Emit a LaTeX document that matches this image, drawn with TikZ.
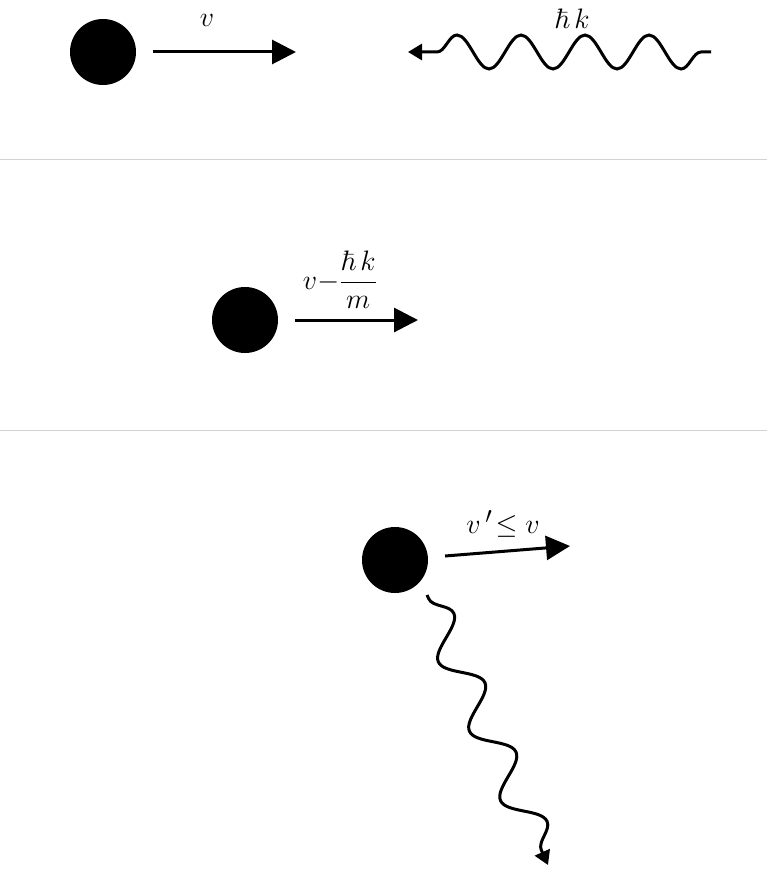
\documentclass[tikz,border=0pt]{standalone}
\usepackage{amsmath, amssymb}
\usepackage{tikz}
\usetikzlibrary{arrows.meta, decorations.pathmorphing}

\tikzset{
    ball/.style={circle, fill=black, inner sep=0pt, minimum size=66pt},
    vel/.style={line width=3pt, -{Triangle[length=24pt, width=24pt]}, shorten <=17pt},
    photon/.style={line width=3pt, -{Triangle[length=14pt, width=16pt]},
        decorate, decoration={snake, amplitude=17pt, segment length=64pt, pre length=10pt, post length=12pt}},
    sep/.style={line width=0.6pt, gray!35},
    lbl/.style={inner sep=0pt, font=\Huge, scale=1.13}
}

\begin{document}
\begin{tikzpicture}[x=1pt, y=-1pt]
    % размеры картинки
    \def\W{767}     % ширина
    \def\H{875}     % высота
    \useasboundingbox (0,0) rectangle (\W,\H);

    % разделители
    \draw[sep] (0,159) -- (\W,159);
    \draw[sep] (0,430) -- (\W,430);

    % до поглощения
    \node[ball] (ballA) at (103,52) {};
    \coordinate (velA) at (296,52);
    \draw[vel] (ballA) -- (velA);
    \node[lbl] (labA) at (207,20) {$v$};

    \coordinate (photA) at (711,52);
    \coordinate (photAend) at (408,52);
    \draw[photon] (photA) -- (photAend);
    \node[lbl] (labPhot) at (572,19) {$\hbar\,k$};

    % после поглощения
    \node[ball] (ballB) at (245,320) {};
    \coordinate (velB) at (418,320);
    \draw[vel] (ballB) -- (velB);
    \node[lbl] (labB) at (340,280) {$v{-}\dfrac{\hbar\,k}{m}$};

    % после излучения
    \node[ball] (ballC) at (395,560) {};
    \coordinate (velC) at (570,546);
    \draw[vel] (ballC) -- (velC);
    \node[lbl] (labC) at (503,524) {$v\,'\!\leq v$};

    \coordinate (photC) at (427,595);
    \coordinate (photCend) at (548,865);
    \draw[photon, decoration={amplitude=17pt, segment length=76pt, pre length=4pt}] (photC) -- (photCend);
\end{tikzpicture}
\end{document}
